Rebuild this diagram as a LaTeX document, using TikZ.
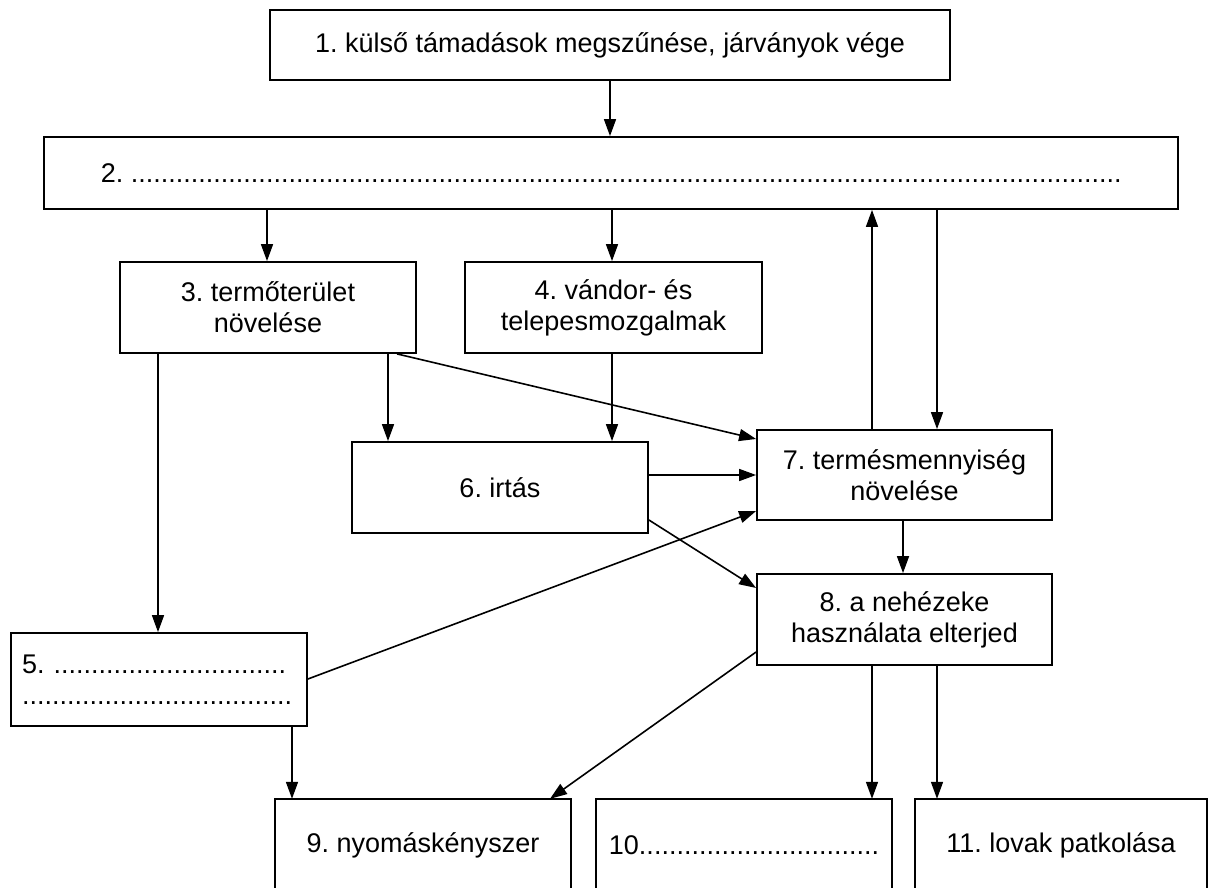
\documentclass[tikz,border=0pt]{standalone}
\usepackage{fontspec}
\setmainfont{Liberation Sans}
\usetikzlibrary{arrows.meta}
\newcommand\dotrow[1]{\foreach\k in {1,...,#1}{.}}
\frenchspacing
\begin{document}
\begin{tikzpicture}[x=1pt,y=-1pt,
  txt/.style={inner sep=0pt, align=center, font=\fontsize{27}{31}\selectfont},
  box/.style={txt, draw, line width=1.8pt},
  arr/.style={line width=1.6pt, -{Triangle[length=17pt,width=12pt]}},
  frame/.style={line width=1.8pt}]
\useasboundingbox (0,0) rectangle (1212,888);
\fill[white] (0,0) rectangle (1212,888);

% boxes
\node[box, minimum width=680pt, minimum height=70pt] (b1) at (610,45) {1. külső támadások megszűnése, járványok vége};
\node[box, minimum width=1134pt, minimum height=72pt] (b2) at (611,173) {2. \dotrow{132}};
\node[box, minimum width=296pt, minimum height=91pt] (b3) at (268,307.5) {3. termőterület\\növelése};
\node[box, minimum width=297pt, minimum height=91pt] (b4) at (613.5,307.5) {4. vándor- és\\telepesmozgalmak};
\node[box, minimum width=296pt, minimum height=91pt] (b6) at (500,487.5) {6. irtás};
\node[box, minimum width=295pt, minimum height=90pt] (b7) at (904.5,475) {7. termésmennyiség\\növelése};
\node[box, minimum width=295pt, minimum height=91pt] (b8) at (904.5,619.5) {8. a nehézeke\\használata elterjed};
\node[box, minimum height=93pt, text width=274pt, align=left, inner xsep=11pt] (b5) at (159,679.5) {5. \dotrow{31}\\\dotrow{36}};
\node[txt, minimum width=296pt, minimum height=92pt] (b9) at (423,845) {9. nyomáskényszer};
\node[txt, minimum width=296pt, minimum height=92pt] (b10) at (744,845) {10\dotrow{32}};
\node[txt, minimum width=292pt, minimum height=92pt] (b11) at (1061,845) {11. lovak patkolása};
\draw[frame] (b9.south west) |- (b9.north east) -- (b9.south east);
\draw[frame] (b10.south west) |- (b10.north east) -- (b10.south east);
\draw[frame] (b11.south west) |- (b11.north east) -- (b11.south east);

% helper x / y positions
\coordinate (x158) at (158,0);
\coordinate (x267) at (267,0);
\coordinate (x292) at (292,0);
\coordinate (x388) at (388,0);
\coordinate (x397) at (397,0);
\coordinate (x550) at (550,0);
\coordinate (x610) at (610,0);
\coordinate (x612) at (612,0);
\coordinate (x872) at (872,0);
\coordinate (x903) at (903,0);
\coordinate (x937) at (937,0);
\coordinate (y439) at (0,439);
\coordinate (y475) at (0,475);
\coordinate (y511) at (0,511);
\coordinate (y520) at (0,520);
\coordinate (y588) at (0,588);
\coordinate (y652) at (0,652);
\coordinate (y679) at (0,679);

% connectors
\draw[arr] (b1.south -| x610) -- (b2.north -| x610);
\draw[arr] (b2.south -| x267) -- (b3.north -| x267);
\draw[arr] (b2.south -| x612) -- (b4.north -| x612);
\draw[arr] (b7.north -| x872) -- (b2.south -| x872);
\draw[arr] (b2.south -| x937) -- (b7.north -| x937);
\draw[arr] (b3.south -| x158) -- (b5.north -| x158);
\draw[arr] (b3.south -| x388) -- (b6.north -| x388);
\draw[arr] (b4.south -| x612) -- (b6.north -| x612);
\draw[arr] (b3.south -| x397) -- (b7.west |- y439);
\draw[arr] (b6.east |- y475) -- (b7.west |- y475);
\draw[arr] (b6.east |- y520) -- (b8.west |- y588);
\draw[arr] (b5.east |- y679) -- (b7.west |- y511);
\draw[arr] (b7.south -| x903) -- (b8.north -| x903);
\draw[arr] (b8.west |- y652) -- (b9.north -| x550);
\draw[arr] (b5.south -| x292) -- (b9.north -| x292);
\draw[arr] (b8.south -| x872) -- (b10.north -| x872);
\draw[arr] (b8.south -| x937) -- (b11.north -| x937);
\end{tikzpicture}
\end{document}
